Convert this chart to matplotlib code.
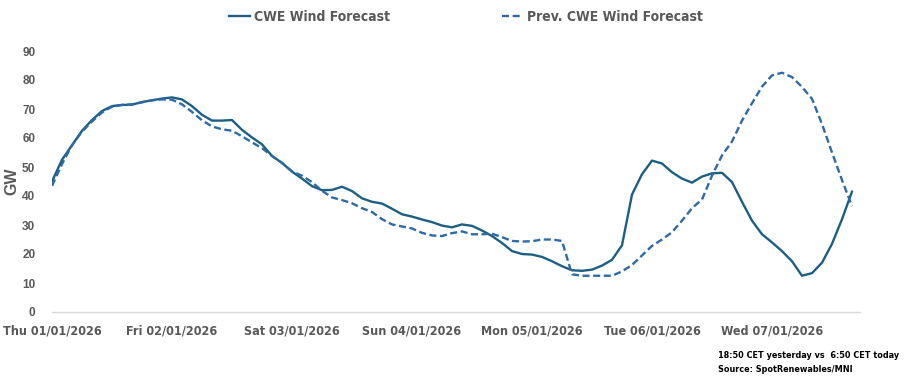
import numpy as np
import matplotlib
matplotlib.use("Agg")
import matplotlib.pyplot as plt
from matplotlib import font_manager

# hours since Thu 01/01/2026 00:00, 2-hourly forecast steps
hours = np.arange(0, 162, 2)

day_labels = ["Thu 01/01/2026", "Fri 02/01/2026", "Sat 03/01/2026", "Sun 04/01/2026",
              "Mon 05/01/2026", "Tue 06/01/2026", "Wed 07/01/2026"]

cwe_wind = [45, 52.5, 57.5, 62.5, 66.2, 69.3, 71, 71.4, 71.5, 72.4,
            73, 73.6, 74, 73.3, 71, 68, 66, 66, 66.2, 62.8,
            60.2, 57.8, 53.8, 51.4, 48.4, 46, 43.4, 42, 42.1, 43.2,
            41.7, 39.2, 38, 37.4, 35.6, 33.7, 32.9, 31.9, 31, 29.8,
            29.2, 30.2, 29.7, 28.1, 26.2, 23.8, 21, 20, 19.8, 19,
            17.5, 15.8, 14.4, 14.2, 14.6, 16, 18, 23, 40.5, 47.5,
            52.2, 51.2, 48.2, 46, 44.6, 46.7, 47.8, 48, 44.8, 38,
            31.5, 26.8, 24, 21, 17.5, 12.5, 13.4, 17, 23.5, 32,
            41.5]

prev_cwe_wind = [43.5, 51, 57.5, 62.2, 65.7, 68.8, 70.8, 71.4, 71.6, 72.3,
                 73, 73.3, 73.2, 71.6, 69, 66.1, 64, 63, 62.5, 60.6,
                 58.5, 56.5, 53.8, 51.4, 48.5, 47, 44.8, 41.8, 39.5, 38.6,
                 37.5, 35.8, 34.5, 32, 30.2, 29.5, 28.8, 27.3, 26.4, 26.2,
                 27.2, 27.8, 26.8, 26.8, 27, 25.8, 24.5, 24.3, 24.4, 25,
                 25, 24.5, 13, 12.5, 12.5, 12.5, 12.5, 14, 16.2, 19.5,
                 22.8, 25, 27.5, 31.5, 35.8, 38.8, 47, 54, 58.8, 66,
                 72, 77.7, 81.6, 82.5, 81, 77.6, 73.5, 64.8, 55, 45.5,
                 36.5]

grey = "#595959"


def narrow(size):
    return font_manager.FontProperties(family="DejaVu Sans", stretch="condensed",
                                       weight="bold", size=size)


fig = plt.figure(figsize=(9.1, 3.83), dpi=100)
ax = fig.add_axes([52 / 910, 71 / 383, 808 / 910, 261 / 383])

ax.plot(hours, cwe_wind, color="#1d5f83", lw=1.7, label="CWE Wind Forecast",
        solid_joinstyle="round")
ax.plot(hours, prev_cwe_wind, color="#2e6aa6", lw=1.7, dashes=(3, 1.5),
        label="Prev. CWE Wind Forecast")

ax.set_xlim(0, 161.6)
ax.set_ylim(0, 90)
ax.set_yticks(range(0, 91, 10))
ax.set_yticklabels([str(v) for v in range(0, 91, 10)], fontsize=8.5,
                   fontweight="bold", color=grey, family="Liberation Sans")
ax.set_xticks(np.arange(len(day_labels)) * 24)
ax.set_xticklabels(day_labels, fontproperties=narrow(9), color=grey)
ax.tick_params(axis="y", length=0, pad=12)
ax.tick_params(axis="x", length=0, pad=9)

for s in ["top", "right", "left"]:
    ax.spines[s].set_visible(False)
ax.spines["bottom"].set_color("#d9d9d9")
ax.spines["bottom"].set_linewidth(1)

ax.set_ylabel("GW", fontsize=11.5, fontweight="bold", color=grey,
              family="Liberation Sans")
ax.yaxis.set_label_coords(-0.04, 0.5)

fig.legend(loc="center", bbox_to_anchor=(0.512, 0.956), ncol=2, frameon=False,
           prop=narrow(10), labelcolor=grey, handlelength=1.5,
           handletextpad=0.3, columnspacing=8)

fig.text(718 / 910, 1 - 356 / 383, "18:50 CET yesterday vs  6:50 CET today",
         fontproperties=narrow(6.5), va="center")
fig.text(718 / 910, 1 - 369 / 383, "Source: SpotRenewables/MNI",
         fontproperties=narrow(6.5), va="center")

fig.savefig("out.png", dpi=100)
